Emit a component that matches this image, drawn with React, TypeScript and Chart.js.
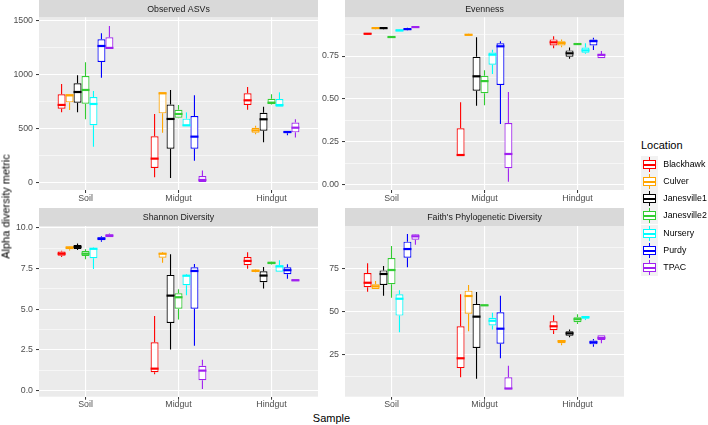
import React, { useEffect, useRef } from "react";
import { Chart, registerables } from "chart.js";
Chart.register(...registerables);

// ---------- DATA ----------
const categories = ["Soil", "Midgut", "Hindgut"];
const locations = ["Blackhawk", "Culver", "Janesville1", "Janesville2", "Nursery", "Purdy", "TPAC"];
const locationColors = ["#FF0000", "#FFA500", "#000000", "#32CD32", "#00FFFF", "#0000FF", "#A020F0"];

// each entry: [lower whisker, Q1, median, Q3, upper whisker] for Soil, Midgut, Hindgut
const obsBlackhawk = [[653, 686, 721, 820, 915], [50, 136, 223, 430, 637], [677, 720, 764, 829, 888]];
const obsCulver = [[674, 745, 810, 820, 820], [464, 643, 829, 838, 838], [448, 464, 485, 510, 529]];
const obsJanesville1 = [[653, 742, 841, 922, 996], [43, 315, 591, 724, 860], [374, 482, 588, 649, 705]];
const obsJanesville2 = [[588, 733, 860, 990, 1117], [597, 603, 637, 677, 720], [724, 730, 742, 779, 820]];
const obsNursery = [[334, 532, 730, 795, 850], [526, 526, 532, 594, 652], [705, 705, 720, 776, 838]];
const obsPurdy = [[974, 1120, 1268, 1330, 1386], [204, 315, 427, 618, 810], [439, 458, 470, 479, 479]];
const obsTPAC = [[1243, 1243, 1250, 1349, 1453], [6, 6, 25, 62, 114], [418, 467, 510, 557, 588]];

const evenBlackhawk = [[0.874, 0.875, 0.88, 0.884, 0.885], [0.169, 0.169, 0.173, 0.329, 0.48], [0.795, 0.812, 0.83, 0.847, 0.865]];
const evenCulver = [[0.907, 0.908, 0.913, 0.916, 0.917], [0.868, 0.869, 0.874, 0.879, 0.88], [0.802, 0.812, 0.826, 0.837, 0.847]];
const evenJanesville1 = [[0.906, 0.908, 0.913, 0.916, 0.919], [0.46, 0.548, 0.632, 0.746, 0.859], [0.734, 0.746, 0.766, 0.783, 0.8]];
const evenJanesville2 = [[0.855, 0.856, 0.861, 0.865, 0.866], [0.463, 0.533, 0.604, 0.635, 0.667], [0.816, 0.817, 0.82, 0.823, 0.824]];
const evenNursery = [[0.894, 0.895, 0.899, 0.906, 0.908], [0.645, 0.699, 0.758, 0.771, 0.787], [0.763, 0.769, 0.783, 0.8, 0.824]];
const evenPurdy = [[0.9, 0.902, 0.907, 0.911, 0.915], [0.354, 0.581, 0.807, 0.824, 0.836], [0.785, 0.812, 0.837, 0.847, 0.857]];
const evenTPAC = [[0.914, 0.915, 0.919, 0.923, 0.924], [0.017, 0.096, 0.179, 0.36, 0.54], [0.737, 0.737, 0.757, 0.76, 0.779]];

const shanBlackhawk = [[8.2, 8.28, 8.4, 8.53, 8.58], [1.0, 1.13, 1.35, 2.97, 4.58], [7.48, 7.69, 7.96, 8.2, 8.49]];
const shanCulver = [[8.6, 8.67, 8.77, 8.86, 8.88], [7.85, 8.16, 8.4, 8.45, 8.49], [7.26, 7.28, 7.36, 7.42, 7.44]];
const shanJanesville1 = [[8.63, 8.69, 8.82, 8.94, 9.02], [2.52, 4.15, 5.83, 7.1, 8.37], [6.26, 6.65, 7.06, 7.32, 7.59]];
const shanJanesville2 = [[8.06, 8.26, 8.4, 8.57, 8.67], [4.36, 5.03, 5.73, 5.97, 6.22], [7.73, 7.75, 7.84, 7.9, 7.92]];
const shanNursery = [[7.47, 8.12, 8.7, 8.74, 8.78], [5.85, 6.47, 7.05, 7.1, 7.14], [7.3, 7.3, 7.62, 7.69, 8.0]];
const shanPurdy = [[9.14, 9.23, 9.33, 9.41, 9.47], [2.76, 5.03, 7.34, 7.57, 7.77], [6.87, 7.14, 7.39, 7.57, 7.75]];
const shanTPAC = [[9.41, 9.41, 9.51, 9.6, 9.64], [0.1, 0.64, 1.23, 1.53, 1.9], [6.71, 6.71, 6.77, 6.83, 6.83]];

const faithBlackhawk = [[61.8, 64.4, 67.0, 72.7, 78.3], [12.0, 17.4, 23.1, 41.7, 60.3], [37.2, 39.4, 41.7, 44.6, 48.1]];
const faithCulver = [[63.4, 63.4, 64.9, 66.1, 68.0], [38.8, 49.0, 59.3, 62.4, 65.7], [30.6, 31.8, 33.0, 33.7, 33.7]];
const faithJanesville1 = [[59.5, 65.7, 72.1, 74.2, 76.7], [11.2, 29.1, 47.3, 54.7, 61.6], [35.3, 36.2, 37.6, 38.8, 39.9]];
const faithJanesville2 = [[58.3, 66.1, 74.4, 81.4, 88.4], [53.5, 53.5, 53.9, 54.3, 54.3], [43.0, 44.0, 45.8, 46.9, 48.7]];
const faithNursery = [[38.2, 47.9, 57.7, 60.3, 62.6], [39.9, 42.2, 44.9, 46.7, 49.6], [45.3, 46.1, 47.0, 47.7, 47.7]];
const faithPurdy = [[76.0, 81.6, 86.6, 90.9, 95.3], [23.1, 31.6, 40.3, 49.8, 59.5], [29.8, 31.2, 32.4, 33.5, 34.3]];
const faithTPAC = [[89.1, 92.0, 94.0, 95.2, 95.3], [5.2, 5.2, 5.5, 12.0, 18.8], [31.8, 33.7, 34.9, 36.5, 36.5]];

// tick values / labels
const obsMajorTicks = [0, 500, 1000, 1500];
const obsMinorTicks = [250, 750, 1250];
const obsTickLabels = ["0", "500", "1000", "1500"];
const evenMajorTicks = [0, 0.25, 0.5, 0.75];
const evenMinorTicks = [0.125, 0.375, 0.625, 0.875];
const evenTickLabels = ["0.00", "0.25", "0.50", "0.75"];
const shanMajorTicks = [0, 2.5, 5, 7.5, 10];
const shanMinorTicks = [1.25, 3.75, 6.25, 8.75];
const shanTickLabels = ["0.0", "2.5", "5.0", "7.5", "10.0"];
const faithMajorTicks = [25, 50, 75];
const faithMinorTicks = [12.5, 37.5, 62.5, 87.5];
const faithTickLabels = ["25", "50", "75"];

const FONT = "'Liberation Sans', Arial, Helvetica, sans-serif";

type Panel = {
  title: string;
  series: number[][][];
  min: number;
  max: number;
  major: number[];
  minor: number[];
  labels: string[];
  left: number;
  top: number;
  height: number;
  padTop: number;
  xHeight: number;
};

const panels: Panel[] = [
  {
    title: "Observed ASVs",
    series: [obsBlackhawk, obsCulver, obsJanesville1, obsJanesville2, obsNursery, obsPurdy, obsTPAC],
    min: -68, max: 1534,
    major: obsMajorTicks, minor: obsMinorTicks, labels: obsTickLabels,
    left: 0, top: 0, height: 205, padTop: 17.3, xHeight: 15,
  },
  {
    title: "Evenness",
    series: [evenBlackhawk, evenCulver, evenJanesville1, evenJanesville2, evenNursery, evenPurdy, evenTPAC],
    min: -0.031, max: 0.976,
    major: evenMajorTicks, minor: evenMinorTicks, labels: evenTickLabels,
    left: 306, top: 0, height: 205, padTop: 17.3, xHeight: 15,
  },
  {
    title: "Shannon Diversity",
    series: [shanBlackhawk, shanCulver, shanJanesville1, shanJanesville2, shanNursery, shanPurdy, shanTPAC],
    min: -0.37, max: 10.1,
    major: shanMajorTicks, minor: shanMinorTicks, labels: shanTickLabels,
    left: 0, top: 208, height: 204, padTop: 18, xHeight: 15.3,
  },
  {
    title: "Faith's Phylogenetic Diversity",
    series: [faithBlackhawk, faithCulver, faithJanesville1, faithJanesville2, faithNursery, faithPurdy, faithTPAC],
    min: 0.76, max: 100,
    major: faithMajorTicks, minor: faithMinorTicks, labels: faithTickLabels,
    left: 306, top: 208, height: 204, padTop: 18, xHeight: 15.3,
  },
];

const CANVAS_W = 320;

const panelPlugin = {
  id: "panelDecor",
  beforeDraw(chart: any, _args: any, opts: any) {
    const { ctx, chartArea } = chart;
    ctx.save();
    ctx.fillStyle = "#EBEBEB";
    ctx.fillRect(chartArea.left, chartArea.top, chartArea.right - chartArea.left, chartArea.bottom - chartArea.top);
    const stripH = opts.stripH;
    ctx.fillStyle = "#D9D9D9";
    ctx.fillRect(chartArea.left, chartArea.top - stripH, chartArea.right - chartArea.left, stripH);
    ctx.fillStyle = "#1A1A1A";
    ctx.font = `8.8px ${FONT}`;
    ctx.textAlign = "center";
    ctx.textBaseline = "middle";
    ctx.fillText(opts.title, (chartArea.left + chartArea.right) / 2, chartArea.top - stripH / 2 + 0.5);
    ctx.restore();
  },
  afterDatasetsDraw(chart: any) {
    const { ctx } = chart;
    const yS = chart.scales.y;
    ctx.save();
    chart.data.datasets.forEach((ds: any, di: number) => {
      const meta = chart.getDatasetMeta(di);
      meta.data.forEach((el: any, j: number) => {
        const s = ds.stats[j];
        if (!s) return;
        const p = el.getProps(["x", "width"], true);
        const x = p.x;
        const w = p.width;
        ctx.strokeStyle = ds.borderColor;
        ctx.lineWidth = 1.1;
        ctx.beginPath();
        ctx.moveTo(x, yS.getPixelForValue(s[3]));
        ctx.lineTo(x, yS.getPixelForValue(s[4]));
        ctx.moveTo(x, yS.getPixelForValue(s[1]));
        ctx.lineTo(x, yS.getPixelForValue(s[0]));
        ctx.stroke();
        ctx.lineWidth = 2.2;
        ctx.beginPath();
        const ym = yS.getPixelForValue(s[2]);
        ctx.moveTo(x - w / 2, ym);
        ctx.lineTo(x + w / 2, ym);
        ctx.stroke();
      });
    });
    ctx.restore();
  },
};

function PanelChart({ panel }: { panel: Panel }) {
  const ref = useRef<HTMLCanvasElement | null>(null);
  useEffect(() => {
    if (!ref.current) return;
    const allTicks = [...panel.major, ...panel.minor].sort((a, b) => a - b);
    const isMajor = (v: number) => panel.major.some((m) => Math.abs(m - v) < 1e-9);
    const datasets = locations.map((loc, i) => ({
      label: loc,
      data: panel.series[i].map((s) => [s[1], s[3]]),
      stats: panel.series[i],
      backgroundColor: "#FFFFFF",
      borderColor: locationColors[i],
      borderWidth: 1.2,
      borderSkipped: false,
      categoryPercentage: 0.6,
      barPercentage: 1.0,
    }));
    const chart = new Chart(ref.current, {
      type: "bar",
      data: { labels: categories, datasets: datasets as any },
      plugins: [panelPlugin as any],
      options: {
        animation: false,
        responsive: false,
        maintainAspectRatio: false,
        devicePixelRatio: 1,
        layout: { padding: { top: panel.padTop, right: 2, left: 0, bottom: 0 } },
        plugins: {
          legend: { display: false },
          tooltip: { enabled: false },
          title: { display: false },
          panelDecor: { title: panel.title, stripH: panel.padTop },
        } as any,
        scales: {
          x: {
            type: "category",
            offset: true,
            grid: {
              offset: false,
              color: "#FFFFFF",
              lineWidth: 1.1,
              tickColor: "#333333",
              tickLength: 3,
              tickWidth: 1,
            },
            border: { display: false },
            ticks: {
              color: "#4D4D4D",
              font: { family: FONT, size: 8.8 },
              padding: 0,
              maxRotation: 0,
              autoSkip: false,
            },
            afterFit: (scale: any) => {
              scale.height = panel.xHeight;
            },
          },
          y: {
            type: "linear",
            min: panel.min,
            max: panel.max,
            afterBuildTicks: (scale: any) => {
              scale.ticks = allTicks.map((v) => ({ value: v }));
            },
            afterFit: (scale: any) => {
              scale.width = 39;
            },
            grid: {
              color: "#FFFFFF",
              lineWidth: (ctx: any) => (ctx.tick && isMajor(ctx.tick.value) ? 1.1 : 0.55),
              tickColor: (ctx: any) => (ctx.tick && isMajor(ctx.tick.value) ? "#333333" : "rgba(0,0,0,0)"),
              tickLength: 3,
              tickWidth: 1,
            },
            border: { display: false },
            ticks: {
              color: "#4D4D4D",
              font: { family: FONT, size: 8.8 },
              padding: 3,
              autoSkip: false,
              callback: (value: any) => {
                const idx = panel.major.findIndex((m) => Math.abs(m - Number(value)) < 1e-9);
                return idx >= 0 ? panel.labels[idx] : "";
              },
            },
          },
        },
      } as any,
    });
    return () => chart.destroy();
  }, [panel]);
  return (
    <canvas
      ref={ref}
      width={CANVAS_W}
      height={panel.height}
      style={{ position: "absolute", left: panel.left, top: panel.top, width: CANVAS_W, height: panel.height }}
    />
  );
}

function LegendKey({ color, top }: { color: string; top: number }) {
  const size = 17;
  return (
    <div style={{ position: "absolute", left: 641, top, width: size, height: size, background: "#F2F2F2" }}>
      <div style={{ position: "absolute", left: 8, top: 1, width: 1, height: size - 2, background: color }} />
      <div
        style={{
          position: "absolute",
          left: 2,
          top: 4,
          width: 13,
          height: 9,
          border: `1.5px solid ${color}`,
          background: "#FFFFFF",
          boxSizing: "border-box",
        }}
      />
      <div style={{ position: "absolute", left: 2, top: 8, width: 13, height: 1.5, background: color }} />
    </div>
  );
}

export default function App() {
  const keyCenters = locations.map((_, i) => 164 + i * 17.33);
  return (
    <div style={{ position: "absolute", left: 0, top: 0, width: 708, height: 425, background: "#FFFFFF", fontFamily: FONT, overflow: "hidden" }}>
      {panels.map((p) => (
        <PanelChart key={p.title} panel={p} />
      ))}
      <div
        style={{
          position: "absolute",
          left: -94,
          top: 199.5,
          width: 200,
          height: 13,
          lineHeight: "13px",
          fontSize: 11,
          color: "#000000",
          textAlign: "center",
          transform: "rotate(-90deg)",
          whiteSpace: "nowrap",
        }}
      >
        Alpha diversity metric
      </div>
      <div
        style={{
          position: "absolute",
          left: 231.5,
          top: 411.5,
          width: 200,
          height: 13,
          lineHeight: "13px",
          fontSize: 11,
          color: "#000000",
          textAlign: "center",
        }}
      >
        Sample
      </div>
      <div style={{ position: "absolute", left: 641, top: 138.5, lineHeight: "13px", fontSize: 11, color: "#000000" }}>Location</div>
      {locations.map((loc, i) => (
        <React.Fragment key={loc}>
          <LegendKey color={locationColors[i]} top={Math.round(keyCenters[i] - 8.5)} />
          <div
            style={{
              position: "absolute",
              left: 663.3,
              top: keyCenters[i] - 5.5,
              lineHeight: "11px",
              fontSize: 8.8,
              color: "#000000",
              whiteSpace: "nowrap",
            }}
          >
            {loc}
          </div>
        </React.Fragment>
      ))}
    </div>
  );
}
